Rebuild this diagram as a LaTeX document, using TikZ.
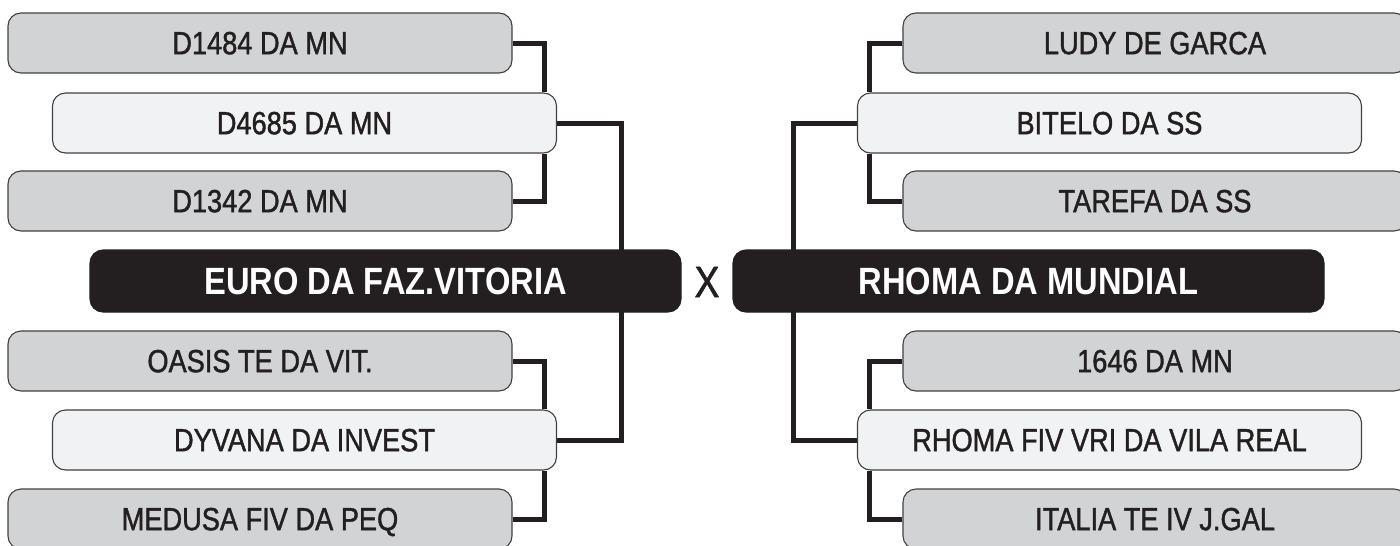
\documentclass[tikz,border=0pt]{standalone}
\usepackage{fontspec}
\setmainfont{Liberation Sans}[FakeStretch=0.86]
\newfontfamily\cardfont{Liberation Sans}[FakeStretch=0.85,FakeBold=1.3]
\usepackage{tikz}
\usetikzlibrary{backgrounds}
\definecolor{ink}{RGB}{35, 31, 32}
\definecolor{cardgray}{RGB}{209, 211, 212}
\definecolor{cardlight}{RGB}{241, 242, 243}
\definecolor{rim}{RGB}{65, 64, 66}

\begin{document}
\begin{tikzpicture}[x=1pt,y=-1pt,
  card/.style={draw=rim,line width=1.1pt,rounded corners=13pt,minimum width=504pt,minimum height=60pt,inner sep=0pt,text depth=0pt,text=ink,font=\cardfont\fontsize{32}{32}\selectfont},
  side/.style={card,fill=cardgray},
  mid/.style={card,fill=cardlight},
  team/.style={card,draw=ink,fill=ink,text=white,minimum width=591pt,minimum height=62pt,font=\fontsize{38}{38}\selectfont\bfseries},
  link/.style={draw=ink,line width=5pt}]
\useasboundingbox (0,0) rectangle (1400,546);
\clip (0,0) rectangle (1400,546);

\node[side] (d1484) at (260,43) {D1484 DA MN};
\node[mid] (d4685) at (304.5,123) {D4685 DA MN};
\node[side] (d1342) at (260,201) {D1342 DA MN};
\node[team] (euro) at (385.5,281) {EURO DA FAZ.VITORIA};
\node[side] (oasis) at (260,361) {OASIS TE DA VIT.};
\node[mid] (dyvana) at (304.5,440) {DYVANA DA INVEST};
\node[side] (medusa) at (260,519) {MEDUSA FIV DA PEQ};

\node[text=ink,inner sep=0pt,font=\cardfont\fontsize{44}{44}\selectfont] (versus) at (707,282) {X};

\node[side] (ludy) at (1155,43) {LUDY DE GARCA};
\node[mid] (bitelo) at (1109.5,123) {BITELO DA SS};
\node[side] (tarefa) at (1155,201) {TAREFA DA SS};
\node[team] (rhoma) at (1028.5,281) {RHOMA DA MUNDIAL};
\node[side] (m1646) at (1155,361) {1646 DA MN};
\node[mid] (rhomafiv) at (1109.5,440) {RHOMA FIV VRI DA VILA REAL};
\node[side] (italia) at (1155,519) {ITALIA TE IV J.GAL};

\begin{scope}[on background layer]
\draw[link] (d1484.east) -| ([xshift=-13pt]d4685.north east);
\draw[link] (d1342.east) -| ([xshift=-13pt]d4685.south east);
\draw[link] (oasis.east) -| ([xshift=-13pt]dyvana.north east);
\draw[link] (medusa.east) -| ([xshift=-13pt]dyvana.south east);
\draw[link] (d4685.east) -- ++(64,0) |- (dyvana.east);

\draw[link] (ludy.west) -| ([xshift=13pt]bitelo.north west);
\draw[link] (tarefa.west) -| ([xshift=13pt]bitelo.south west);
\draw[link] (m1646.west) -| ([xshift=13pt]rhomafiv.north west);
\draw[link] (italia.west) -| ([xshift=13pt]rhomafiv.south west);
\draw[link] (bitelo.west) -- ++(-63,0) |- (rhomafiv.west);
\end{scope}

\end{tikzpicture}
\end{document}
